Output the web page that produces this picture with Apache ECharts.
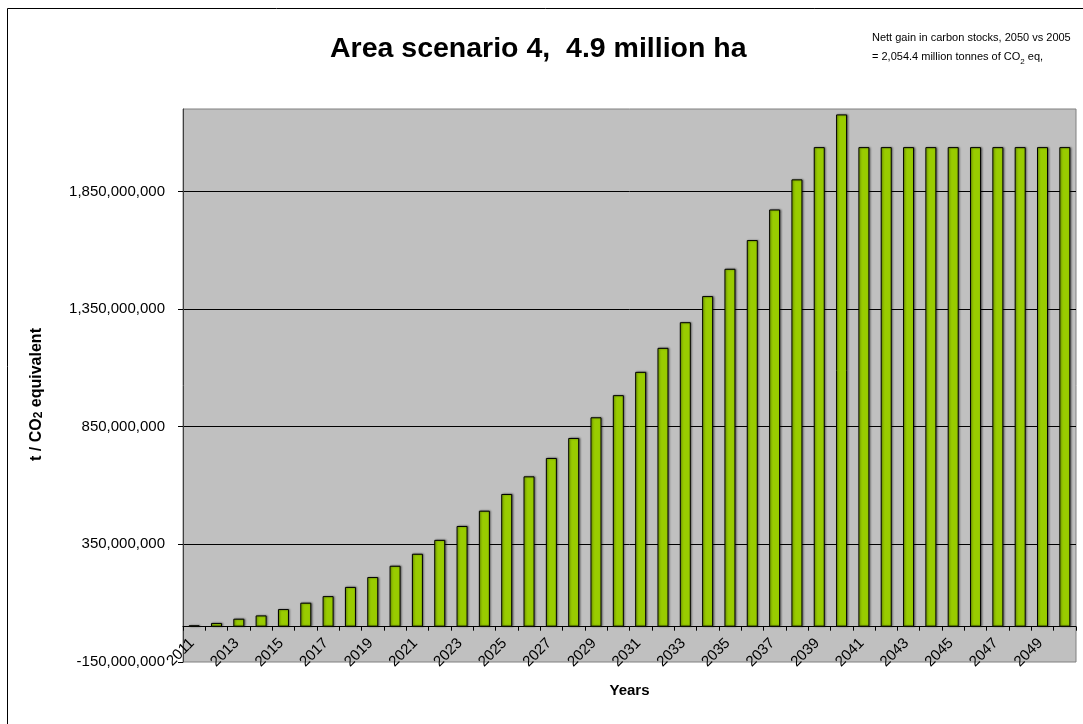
<!DOCTYPE html>
<html><head><meta charset="utf-8">
<script src="https://cdn.jsdelivr.net/npm/echarts@6/dist/echarts.min.js"></script>
<style>html,body{margin:0;padding:0;background:#fff}#c{width:1083px;height:724px}</style>
</head><body><div id="c"></div>
<script>
const years = ['2011','2012','2013','2014','2015','2016','2017','2018','2019','2020',
  '2021','2022','2023','2024','2025','2026','2027','2028','2029','2030',
  '2031','2032','2033','2034','2035','2036','2037','2038','2039','2040',
  '2041','2042','2043','2044','2045','2046','2047','2048','2049','2050'];
const values = [6e6, 16e6, 34e6, 48e6, 75e6, 102e6, 130e6, 169e6, 211e6, 259e6,
  310e6, 369e6, 428e6, 493e6, 564e6, 639e6, 717e6, 802e6, 890e6, 984e6,
  1083e6, 1185e6, 1294e6, 1405e6, 1521e6, 1643e6, 1773e6, 1901e6, 2038e6, 2177e6,
  2038e6, 2038e6, 2038e6, 2038e6, 2038e6, 2038e6, 2038e6, 2038e6, 2038e6, 2038e6];
const yTicks = [-150000000, 350000000, 850000000, 1350000000, 1850000000];
const yMin = -150000000, yMax = 2200000000, yStep = 500000000;

const FONT = '"Liberation Sans", Arial, sans-serif';
const GRID = {left: 183, right: 7, top: 109, bottom: 62};
const chart = echarts.init(document.getElementById('c'), null, {renderer: 'canvas'});
// distance (px) from the grid bottom up to the zero line, from the y scale
const plotH = 724 - GRID.top - GRID.bottom;
const zeroOffset = plotH * (0 - yMin) / (yMax - yMin);

chart.setOption({
  animation: false,
  backgroundColor: '#fff',
  title: [{
    text: 'Area scenario 4,  4.9 million ha',
    left: 330, top: 35, padding: 0,
    textStyle: {fontFamily: FONT, fontWeight: 'bold', fontSize: 28.5, color: '#000'}
  }, {
    text: '{n|Nett gain in carbon stocks, 2050 vs 2005}\n{n|= 2,054.4 million tonnes of CO}{s|2}{n| eq,}',
    left: 872, top: 28, padding: 0,
    textStyle: {
      fontFamily: FONT, fontSize: 11, color: '#000', fontWeight: 'normal',
      rich: {
        n: {fontFamily: FONT, fontSize: 11, lineHeight: 19, color: '#000'},
        s: {fontFamily: FONT, fontSize: 8, lineHeight: 14, verticalAlign: 'bottom', color: '#000'}
      }
    }
  }],
  graphic: [{
    type: 'rect', silent: true, z: 100,
    shape: {x: 7.5, y: 8.5, width: 1200, height: 900},
    style: {fill: null, stroke: '#000', lineWidth: 1}
  }],
  grid: Object.assign({
    show: true, backgroundColor: '#C0C0C0', borderColor: '#808080', borderWidth: 1,
    containLabel: false, outerBoundsMode: 'none'
  }, GRID),
  xAxis: {
    type: 'category', data: years,
    offset: -zeroOffset,
    name: 'Years', nameLocation: 'middle', nameGap: 57,
    nameTextStyle: {fontFamily: FONT, fontWeight: 'bold', fontSize: 15, color: '#000'},
    axisLine: {onZero: false, lineStyle: {color: '#000', width: 1}},
    axisTick: {show: true, interval: 0, length: 4, lineStyle: {color: '#000'}},
    axisLabel: {interval: 1, rotate: 45, margin: 12, fontFamily: FONT, fontSize: 15, color: '#000',
      padding: [0, 3, 0, 0]},
    splitLine: {show: false}
  },
  yAxis: {
    type: 'value', min: yMin, max: yMax, interval: yStep,
    name: '{a|t / CO}{b|2}{a| equivalent}', nameLocation: 'middle', nameRotate: 90, nameGap: 138,
    nameTextStyle: {
      fontFamily: FONT, fontWeight: 'bold', fontSize: 16, color: '#000',
      padding: [0, 18, 0, 0],
      rich: {
        a: {fontFamily: FONT, fontWeight: 'bold', fontSize: 16, color: '#000'},
        b: {fontFamily: FONT, fontWeight: 'bold', fontSize: 12, color: '#000', padding: [4, 0, 0, 0]}
      }
    },
    axisLine: {show: true, lineStyle: {color: '#404040', width: 1}},
    axisTick: {show: true, length: 5, lineStyle: {color: '#000'}, customValues: yTicks},
    axisLabel: {
      margin: 18, fontFamily: FONT, fontSize: 15, color: '#000',
      showMaxLabel: false,
      formatter: v => v.toLocaleString('en-US')
    },
    splitLine: {show: true, showMinLine: false, lineStyle: {color: '#000', width: 1}}
  },
  series: [{
    type: 'bar', data: values, barWidth: 11,
    itemStyle: {
      color: '#99CC00', borderColor: '#000', borderWidth: 1,
      shadowColor: 'rgba(0,0,0,0.45)', shadowBlur: 2, shadowOffsetX: 1, shadowOffsetY: 0
    }
  }]
});
</script></body></html>
